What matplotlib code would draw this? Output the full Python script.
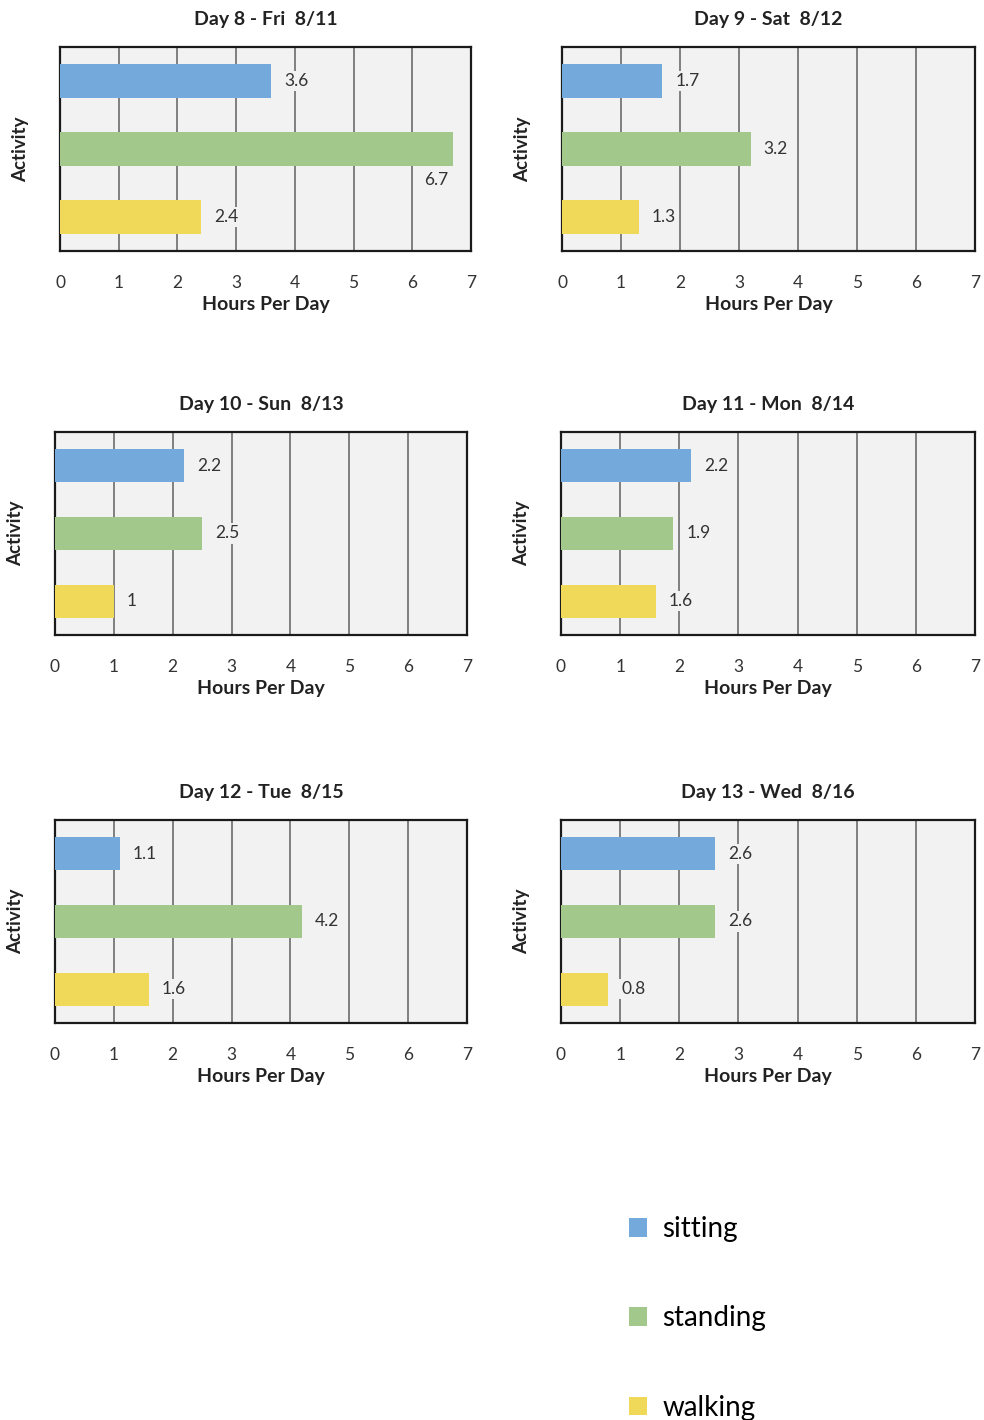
import matplotlib.pyplot as plt
from matplotlib.patches import Patch

plt.rcParams['font.family'] = ['Lato', 'DejaVu Sans']

# данные
activities = ['sitting', 'standing', 'walking']
colors = ['#74aadb', '#a3c88c', '#f0d958']
titles = ['Day 8 - Fri  8/11', 'Day 9 - Sat  8/12', 'Day 10 - Sun  8/13',
          'Day 11 - Mon  8/14', 'Day 12 - Tue  8/15', 'Day 13 - Wed  8/16']
day8 = [3.6, 6.7, 2.4]
day9 = [1.7, 3.2, 1.3]
day10 = [2.2, 2.5, 1]
day11 = [2.2, 1.9, 1.6]
day12 = [1.1, 4.2, 1.6]
day13 = [2.6, 2.6, 0.8]
days = [day8, day9, day10, day11, day12, day13]

W, H = 984, 1420
fig = plt.figure(figsize=(W / 100, H / 100), dpi=100)

# положения осей в пикселях (x0, y0, x1, y1)
boxes = [(60, 47, 471, 251), (562, 47, 975, 251),
         (55, 432, 467, 635), (561, 432, 975, 635),
         (55, 820, 467, 1023), (561, 820, 975, 1023)]

for i, (vals, title) in enumerate(zip(days, titles)):
    x0, y0, x1, y1 = boxes[i]
    ax = fig.add_axes([x0 / W, 1 - y1 / H, (x1 - x0) / W, (y1 - y0) / H])
    ax.set_facecolor('#f2f2f2')
    ypos = range(len(activities))
    ax.barh(ypos, vals, height=0.49, color=colors, zorder=3)
    ax.set_xlim(0, 7)
    ax.set_ylim(2.5, -0.5)
    ax.set_xticks(range(8))
    ax.set_yticks([])
    ax.tick_params(axis='x', length=0, labelsize=12.5, pad=17, colors='#333333')
    ax.grid(axis='x', color='#7f7f7f', linewidth=1.4, zorder=1)
    for s in ax.spines.values():
        s.set_linewidth(1.6)
        s.set_color('#1a1a1a')
    for y, v in zip(ypos, vals):
        if v > 6:
            tx, ty = v - 0.5, y + 0.45
        else:
            tx, ty = v + 0.22, y
        ax.text(tx, ty, f'{v:g}', va='center', ha='left', fontsize=12.5,
                color='#333333', zorder=4,
                bbox=dict(facecolor='#f2f2f2', edgecolor='none', pad=1.5))
    ax.set_title(title, fontsize=14, fontweight='bold', pad=16, color='#222222')
    ax.set_xlabel('Hours Per Day', fontsize=14, fontweight='bold',
                  labelpad=4, color='#222222')
    ax.set_ylabel('Activity', fontsize=13.5, fontweight='bold',
                  labelpad=22, color='#222222')

handles = [Patch(facecolor=c, edgecolor='none', label=a)
           for a, c in zip(activities, colors)]
fig.legend(handles=handles, loc='upper left', frameon=False,
           bbox_to_anchor=(604 / W, 1 - 1191 / H), fontsize=20,
           labelspacing=2.28, handlelength=0.65, handleheight=0.65,
           handletextpad=0.55)

fig.savefig('out.png', dpi=100)
